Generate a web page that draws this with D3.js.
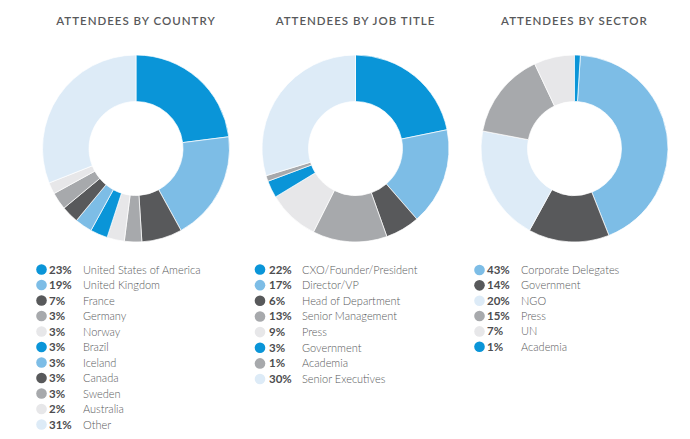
<!DOCTYPE html>
<html><head><meta charset="utf-8">
<script src="https://cdn.jsdelivr.net/npm/d3@7"></script>
<style>
body{margin:0;background:#fff;}
svg{display:block;font-family:"Open Sans","Lato",sans-serif;}
</style></head>
<body><svg id="c" width="690" height="439"></svg>
<script>
const countryLabels = ["United States of America","United Kingdom","France","Germany","Norway","Brazil","Iceland","Canada","Sweden","Australia","Other"];
const countryValues = [23,19,7,3,3,3,3,3,3,2,31];
const countryColors = ["blue","lightblue","dark","mid","light","blue","lightblue","dark","mid","light","pale"];

const jobLabels = ["CXO/Founder/President","Director/VP","Head of Department","Senior Management","Press","Government","Academia","Senior Executives"];
const jobValues = [22,17,6,13,9,3,1,30];
const jobColors = ["blue","lightblue","dark","mid","light","blue","mid","pale"];

const sectorLabels = ["Corporate Delegates","Government","NGO","Press","UN","Academia"];
const sectorValues = [43,14,20,15,7,1];
const sectorColors = ["lightblue","dark","pale","mid","light","blue"];

const titles = ["ATTENDEES BY COUNTRY","ATTENDEES BY JOB TITLE","ATTENDEES BY SECTOR"];

const palette = {blue:"#0a95d8",lightblue:"#7dbde6",dark:"#58595b",mid:"#a7a9ac",light:"#e7e7e9",pale:"#ddebf7"};

const svg = d3.select("#c");

const charts = [
  {title:titles[0], labels:countryLabels, values:countryValues, colors:countryColors, cx:136, cy:148.5, start:0, legX:41.5, legY:269.5, step:15.5, pctX:49, labX:83},
  {title:titles[1], labels:jobLabels, values:jobValues, colors:jobColors, cx:355.5, cy:148.5, start:0, legX:260, legY:269.5, step:15.65, pctX:269, labX:302},
  {title:titles[2], labels:sectorLabels, values:sectorValues, colors:sectorColors, cx:574.5, cy:148.5, start:0.01, legX:479.5, legY:270, step:15.35, pctX:487, labX:521}
];

charts.forEach(ch => {
  const g = svg.append("g");
  g.append("text").attr("x", ch.cx).attr("y", 25).attr("text-anchor","middle")
    .attr("font-size", 11.5).attr("font-weight", 600).attr("letter-spacing", 1)
    .attr("font-family", "Lato, 'Open Sans', sans-serif")
    .attr("fill", "#58595b").text(ch.title);

  const a0 = ch.start * 2 * Math.PI;
  const pie = d3.pie().sort(null).value(d => d).startAngle(a0).endAngle(a0 + 2*Math.PI);
  const arc = d3.arc().innerRadius(47).outerRadius(93.5);
  g.append("g").attr("transform", `translate(${ch.cx},${ch.cy})`)
    .selectAll("path").data(pie(ch.values)).join("path")
    .attr("d", arc)
    .attr("fill", (d,i) => palette[ch.colors[i]])
    .attr("stroke", "#fff").attr("stroke-width", 0.7);

  const y = d3.scaleLinear().domain([0,1]).range([ch.legY, ch.legY + ch.step]);
  const rows = g.append("g").selectAll("g").data(ch.labels).join("g")
    .attr("transform", (d,i) => `translate(0,${y(i)})`);
  rows.append("circle").attr("cx", ch.legX).attr("cy", 0).attr("r", 5.3)
    .attr("fill", (d,i) => palette[ch.colors[i]]);
  rows.append("text").attr("x", ch.pctX).attr("y", 4).attr("font-size", 11.5)
    .attr("font-weight", 700).attr("fill", "#4d4d4f")
    .attr("font-family", "Lato, 'Open Sans', sans-serif")
    .text((d,i) => ch.values[i] + "%");
  rows.append("text").attr("x", ch.labX).attr("y", 4).attr("font-size", 11)
    .attr("font-weight", 300).attr("fill", "#58595b")
    .attr("font-family", "Lato, 'Open Sans', sans-serif")
    .text(d => d);
});
</script></body></html>
